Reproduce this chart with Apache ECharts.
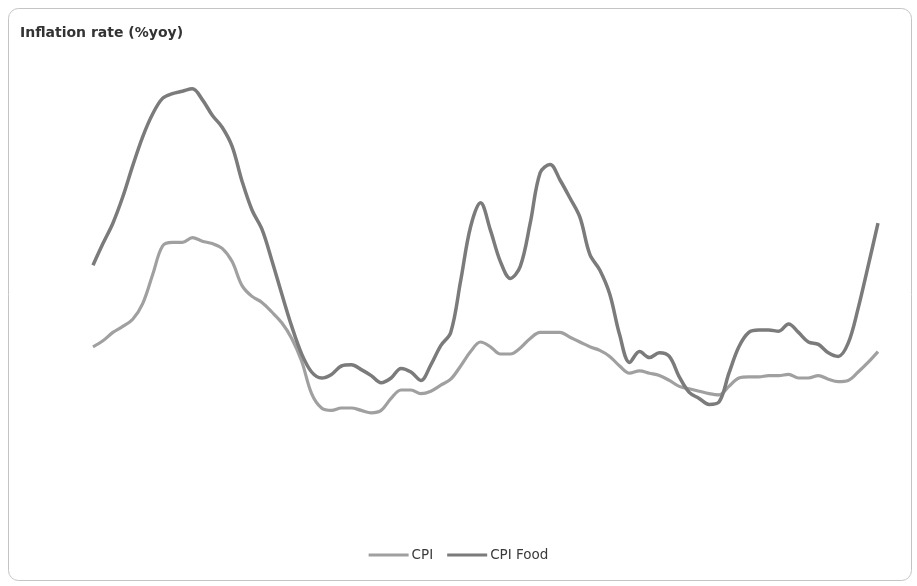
<!DOCTYPE html>
<html>
<head>
<meta charset="utf-8">
<script src="https://cdn.jsdelivr.net/npm/echarts@6/dist/echarts.min.js"></script>
<style>
  html, body { margin: 0; padding: 0; background: #ffffff; }
  #chart { width: 917px; height: 586px; }
</style>
</head>
<body>
<div id="chart"></div>
<script>
// Monthly observations, year-on-year inflation (%)
const periods = Array.from({ length: 80 }, (_, i) => 'm' + (i + 1));

const cpi = [
  6.1, 6.6, 7.3, 7.8, 8.4, 9.7, 12.1, 14.5, 14.8, 14.8,
  15.2, 14.9, 14.7, 14.3, 13.2, 11.2, 10.3, 9.8, 9.0, 8.1,
  6.8, 4.9, 2.2, 1.0, 0.8, 1.0, 1.0, 0.8, 0.6, 0.8,
  1.8, 2.5, 2.5, 2.2, 2.4, 2.9, 3.4, 4.5, 5.7, 6.5,
  6.1, 5.5, 5.5, 6.0, 6.8, 7.3, 7.3, 7.3, 6.9, 6.5,
  6.1, 5.8, 5.3, 4.5, 3.9, 4.1, 3.9, 3.7, 3.3, 2.8,
  2.6, 2.4, 2.2, 2.1, 2.8, 3.5, 3.6, 3.6, 3.7, 3.7,
  3.8, 3.5, 3.5, 3.7, 3.4, 3.2, 3.3, 4.0, 4.8, 5.7
];

const cpiFood = [
  12.9, 14.7, 16.4, 18.6, 21.2, 23.6, 25.5, 26.8, 27.2, 27.4,
  27.6, 26.7, 25.4, 24.4, 22.8, 19.9, 17.5, 15.9, 13.3, 10.5,
  7.8, 5.5, 4.0, 3.5, 3.8, 4.5, 4.6, 4.2, 3.7, 3.1,
  3.5, 4.3, 4.0, 3.3, 4.6, 6.2, 7.3, 11.6, 16.1, 18.1,
  15.8, 13.2, 11.8, 12.8, 16.4, 20.6, 21.3, 20.0, 18.5, 16.9,
  13.8, 12.5, 10.5, 7.1, 4.8, 5.7, 5.2, 5.6, 5.3, 3.6,
  2.3, 1.8, 1.3, 1.5, 3.9, 6.1, 7.3, 7.5, 7.5, 7.4,
  8.0, 7.3, 6.5, 6.3, 5.6, 5.3, 6.4, 9.3, 12.8, 16.4
];

const chart = echarts.init(document.getElementById('chart'), null, { renderer: 'canvas' });

chart.setOption({
  backgroundColor: '#ffffff',
  animation: false,
  title: {
    text: 'Inflation rate (%yoy)',
    left: 15,
    top: 21,
    textStyle: {
      fontFamily: 'DejaVu Sans',
      fontWeight: 'bold',
      fontSize: 14,
      color: '#333333'
    }
  },
  graphic: [{
    type: 'rect',
    silent: true,
    shape: { x: 8.5, y: 8.5, width: 903, height: 572, r: 10 },
    style: { fill: 'none', stroke: '#c4c4c4', lineWidth: 1 }
  }],
  legend: {
    bottom: 19,
    left: 'center',
    itemGap: 14,
    itemWidth: 40,
    itemHeight: 3,
    icon: 'rect',
    textStyle: {
      fontFamily: 'DejaVu Sans',
      fontSize: 13.5,
      color: '#3a3a3a',
      padding: [0, 0, 0, -2]
    },
    data: ['CPI', 'CPI Food']
  },
  grid: {
    left: 93,
    right: 39,
    top: 60,
    bottom: 106
  },
  xAxis: {
    type: 'category',
    data: periods,
    boundaryGap: false,
    show: false
  },
  yAxis: {
    type: 'value',
    min: -5,
    max: 30,
    show: false,
    splitLine: { show: false }
  },
  series: [
    {
      name: 'CPI',
      type: 'line',
      data: cpi,
      smooth: 0.35,
      symbol: 'none',
      lineStyle: { color: '#a0a0a0', width: 3.2 },
      itemStyle: { color: '#a0a0a0' }
    },
    {
      name: 'CPI Food',
      type: 'line',
      data: cpiFood,
      smooth: 0.35,
      symbol: 'none',
      lineStyle: { color: '#7b7b7b', width: 3.5 },
      itemStyle: { color: '#7b7b7b' }
    }
  ]
});
</script>
</body>
</html>
